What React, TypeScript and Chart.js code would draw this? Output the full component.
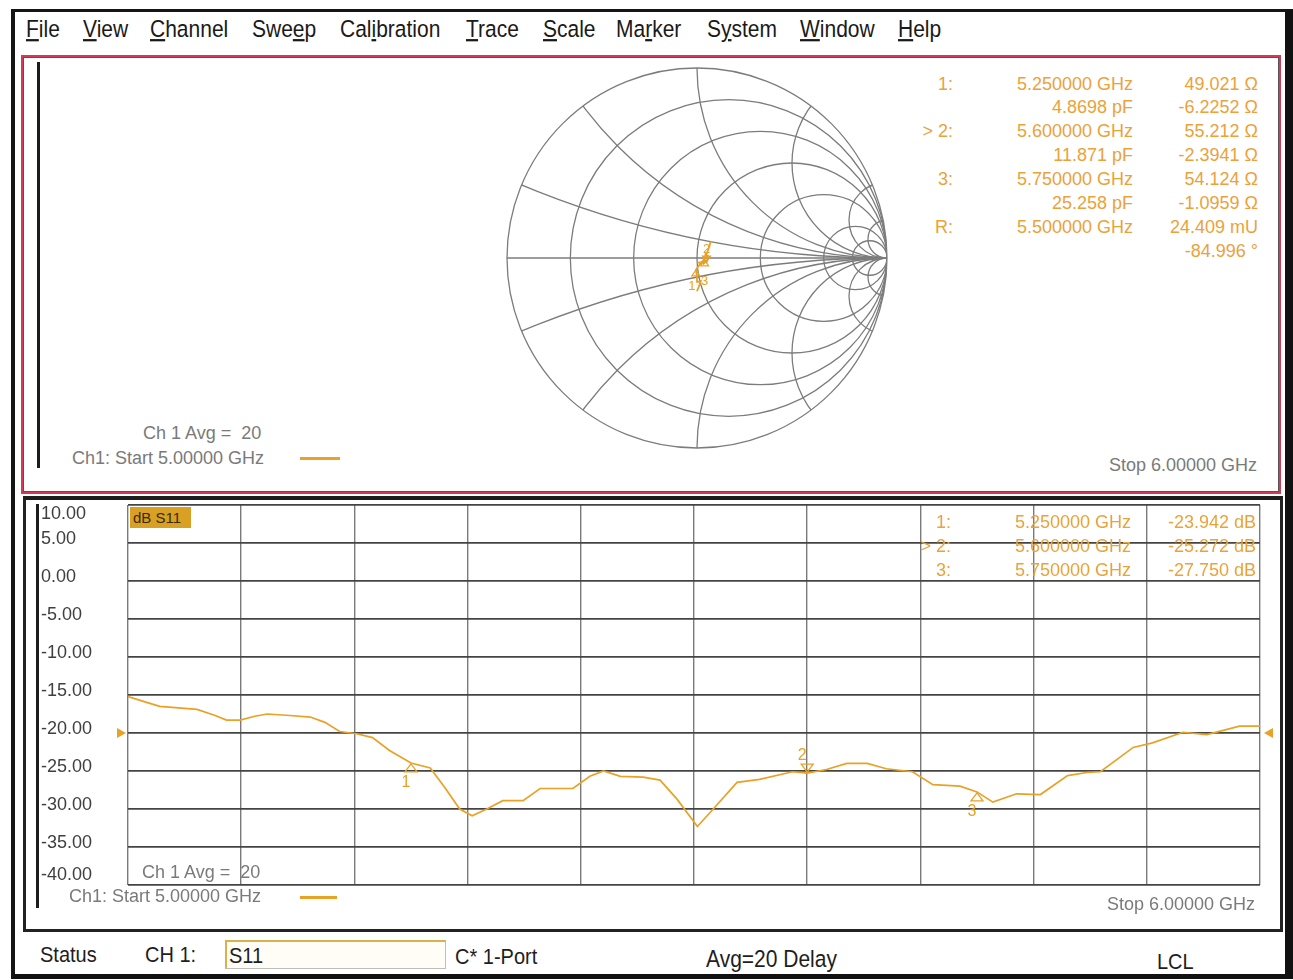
import React, { useEffect, useRef } from 'react';
import { Chart, registerables } from 'chart.js';
Chart.register(...registerables);

// ---------- data ----------
const freqGHz = [5.000, 5.015, 5.028, 5.061, 5.077, 5.087, 5.099, 5.112, 5.123, 5.143, 5.161, 5.174, 5.187, 5.202, 5.216, 5.231, 5.250, 5.267, 5.280, 5.293, 5.304, 5.317, 5.331, 5.349, 5.364, 5.393, 5.408, 5.420, 5.435, 5.455, 5.470, 5.485, 5.503, 5.517, 5.538, 5.558, 5.587, 5.600, 5.617, 5.635, 5.653, 5.670, 5.693, 5.711, 5.735, 5.750, 5.764, 5.785, 5.806, 5.830, 5.847, 5.859, 5.888, 5.905, 5.932, 5.953, 5.982, 6.000];
const s11Db = [-15.2, -15.9, -16.5, -16.9, -17.7, -18.3, -18.3, -17.8, -17.5, -17.7, -17.9, -18.6, -19.8, -20.1, -20.6, -22.3, -23.942, -24.6, -27.2, -30.0, -30.9, -30.0, -28.9, -28.9, -27.3, -27.3, -25.7, -25.0, -25.7, -25.8, -26.2, -28.7, -32.3, -30.0, -26.5, -26.1, -25.1, -25.272, -24.8, -24.0, -24.0, -24.7, -25.1, -26.8, -27.0, -27.75, -29.1, -28.0, -28.1, -25.6, -25.2, -25.1, -21.9, -21.3, -19.9, -20.2, -19.1, -19.1];

const gridFreqs = [5.0, 5.1, 5.2, 5.3, 5.4, 5.5, 5.6, 5.7, 5.8, 5.9, 6.0];
const dbTicks = [10, 5, 0, -5, -10, -15, -20, -25, -30, -35, -40];
const dbTickLabels = ['10.00', '5.00', '0.00', '-5.00', '-10.00', '-15.00', '-20.00', '-25.00', '-30.00', '-35.00', '-40.00'];
const refLevelDb = -20;

const markerNames = ['1', '2', '3'];
const markerFreq = [5.25, 5.6, 5.75];
const markerDb = [-23.942, -25.272, -27.75];
const activeMarker = 1;

// Smith chart trace (reflection coefficient, real / imaginary)
const smithRe = [0.0, 0.01, 0.02, 0.005, 0.0, -0.006, 0.02, 0.03, 0.035, 0.045, 0.0021, 0.04, 0.05, 0.058, 0.045, 0.04, 0.03, 0.05, 0.065, 0.07, 0.075];
const smithIm = [-0.175, -0.15, -0.12, -0.125, -0.095, -0.063, -0.025, -0.015, -0.03, -0.02, -0.0243, -0.02, -0.022, 0.01, 0.02, -0.01, -0.02, 0.02, 0.06, 0.08, 0.09];
const smithMarkerRe = [-0.006, 0.05, 0.04];
const smithMarkerIm = [-0.063, -0.022, -0.01];
const smithRCircles = [0.2, 0.5, 1, 2, 5, 10];
const smithXArcs = [0.2, 0.5, 1, 2, 5, 10];

// Texts
const menuItems = ['File', 'View', 'Channel', 'Sweep', 'Calibration', 'Trace', 'Scale', 'Marker', 'System', 'Window', 'Help'];
const menuUnderline = [0, 0, 0, 3, 3, 0, 0, 2, 1, 0, 0];
const menuX = [26, 83, 150, 252, 340, 466, 543, 616, 707, 800, 898];

const smithTableLabels = ['1:', '', '> 2:', '', '3:', '', 'R:', ''];
const smithTableFreq = ['5.250000 GHz', '4.8698 pF', '5.600000 GHz', '11.871 pF', '5.750000 GHz', '25.258 pF', '5.500000 GHz', ''];
const smithTableVal = ['49.021 Ω', '-6.2252 Ω', '55.212 Ω', '-2.3941 Ω', '54.124 Ω', '-1.0959 Ω', '24.409 mU', '-84.996 °'];

const dbTableLabels = ['1:', '> 2:', '3:'];
const dbTableFreq = ['5.250000 GHz', '5.600000 GHz', '5.750000 GHz'];
const dbTableVal = ['-23.942 dB', '-25.272 dB', '-27.750 dB'];

const ORANGE = '#e9a126';
const TEXT_ORANGE = '#eba23a';
const FONT = '"Liberation Sans", Arial, sans-serif';

function Txt({ x, y, s = 18, c = '#7a7a7a', right = false, w = 500, children, extra = {} }: any) {
  const lh = Math.round(s * 1.3);
  const style: any = {
    position: 'absolute', top: y - lh / 2, height: lh, lineHeight: lh + 'px',
    fontSize: s, color: c, whiteSpace: 'pre', ...extra,
  };
  if (right) { style.left = x - w; style.width = w; style.textAlign = 'right'; } else { style.left = x; }
  return <div style={style}>{children}</div>;
}

function drawTri(ctx: any, px: number, py: number, up: boolean) {
  const h = 8, hw = 6;
  ctx.beginPath();
  if (up) {
    ctx.moveTo(px, py + 1); ctx.lineTo(px - hw, py + 1 + h); ctx.lineTo(px + hw, py + 1 + h);
  } else {
    ctx.moveTo(px, py - 1); ctx.lineTo(px - hw, py - 1 - h); ctx.lineTo(px + hw, py - 1 - h);
  }
  ctx.closePath();
  ctx.stroke();
}

export default function App() {
  const smithRef = useRef<HTMLCanvasElement>(null);
  const dbRef = useRef<HTMLCanvasElement>(null);

  useEffect(() => {
    const smithGrid = {
      id: 'smithGrid',
      beforeDatasetsDraw(chart: any) {
        const { ctx, scales } = chart;
        const sx = scales.x, sy = scales.y;
        const cx = sx.getPixelForValue(0), cy = sy.getPixelForValue(0);
        const R = sx.getPixelForValue(1) - cx;
        ctx.save();
        ctx.strokeStyle = '#7c7c7c';
        ctx.lineWidth = 1.3;
        ctx.beginPath(); ctx.arc(cx, cy, R, 0, Math.PI * 2); ctx.stroke();
        ctx.beginPath(); ctx.arc(cx, cy, R, 0, Math.PI * 2); ctx.clip();
        smithRCircles.forEach((r) => {
          const u = r / (1 + r), rad = 1 / (1 + r);
          ctx.beginPath(); ctx.arc(sx.getPixelForValue(u), cy, rad * R, 0, Math.PI * 2); ctx.stroke();
        });
        smithXArcs.forEach((xv) => {
          [1, -1].forEach((sg) => {
            ctx.beginPath();
            ctx.arc(sx.getPixelForValue(1), sy.getPixelForValue(sg / xv), R / xv, 0, Math.PI * 2);
            ctx.stroke();
          });
        });
        ctx.beginPath(); ctx.moveTo(cx - R, cy); ctx.lineTo(cx + R, cy); ctx.stroke();
        ctx.restore();
      },
      afterDatasetsDraw(chart: any) {
        const { ctx, scales } = chart;
        ctx.save();
        ctx.strokeStyle = ORANGE; ctx.fillStyle = ORANGE; ctx.lineWidth = 1.2;
        ctx.font = '13px ' + FONT; ctx.textAlign = 'center'; ctx.textBaseline = 'middle';
        smithMarkerRe.forEach((re, i) => {
          const px = scales.x.getPixelForValue(re), py = scales.y.getPixelForValue(smithMarkerIm[i]);
          const up = i !== activeMarker;
          ctx.save(); ctx.translate(0, 0);
          ctx.beginPath();
          const h = 6, hw = 4;
          if (up) { ctx.moveTo(px, py); ctx.lineTo(px - hw, py + h); ctx.lineTo(px + hw, py + h); }
          else { ctx.moveTo(px, py); ctx.lineTo(px - hw, py - h); ctx.lineTo(px + hw, py - h); }
          ctx.closePath(); ctx.stroke(); ctx.restore();
          ctx.fillText(markerNames[i], px + (i === 0 ? -4 : 0), up ? py + 16 + i * 3 : py - 13);
        });
        ctx.restore();
      },
    };

    const smith = new Chart(smithRef.current as any, {
      type: 'scatter',
      data: {
        datasets: [{
          data: smithRe.map((re, i) => ({ x: re, y: smithIm[i] })),
          showLine: true, borderColor: ORANGE, borderWidth: 1.8, pointRadius: 0, tension: 0,
        }],
      },
      options: {
        animation: false, responsive: false, maintainAspectRatio: false,
        layout: { padding: 6 },
        plugins: { legend: { display: false }, tooltip: { enabled: false } },
        scales: {
          x: { type: 'linear', min: -1, max: 1, display: false },
          y: { type: 'linear', min: -1, max: 1, display: false },
        },
      } as any,
      plugins: [smithGrid as any],
    });

    const dbOverlay = {
      id: 'dbOverlay',
      afterDraw(chart: any) {
        const { ctx, chartArea, scales } = chart;
        const sx = scales.x, sy = scales.y;
        ctx.save();
        ctx.font = '18px ' + FONT;
        ctx.fillStyle = '#3f3f3f';
        ctx.textAlign = 'left'; ctx.textBaseline = 'middle';
        dbTicks.forEach((v, i) => {
          let py = sy.getPixelForValue(v) - 4;
          py = Math.max(chartArea.top + 9, Math.min(chartArea.bottom - 10, py));
          ctx.fillText(dbTickLabels[i], chartArea.left - 87, py);
        });
        // reference level arrows
        const ry = sy.getPixelForValue(refLevelDb);
        ctx.fillStyle = ORANGE;
        ctx.beginPath();
        ctx.moveTo(chartArea.left - 11, ry - 5); ctx.lineTo(chartArea.left - 11, ry + 5); ctx.lineTo(chartArea.left - 2, ry);
        ctx.closePath(); ctx.fill();
        ctx.beginPath();
        ctx.moveTo(chartArea.right + 13, ry - 5); ctx.lineTo(chartArea.right + 13, ry + 5); ctx.lineTo(chartArea.right + 4, ry);
        ctx.closePath(); ctx.fill();
        // markers
        ctx.strokeStyle = ORANGE; ctx.lineWidth = 1.3;
        ctx.font = '16px ' + FONT; ctx.textAlign = 'center';
        markerFreq.forEach((f, i) => {
          const px = sx.getPixelForValue(f), py = sy.getPixelForValue(markerDb[i]);
          const up = i !== activeMarker;
          drawTri(ctx, px, py, up);
          ctx.fillText(markerNames[i], px - 5, up ? py + 20 : py - 17);
        });
        ctx.restore();
      },
    };

    const db = new Chart(dbRef.current as any, {
      type: 'line',
      data: {
        datasets: [{
          data: freqGHz.map((f, i) => ({ x: f, y: s11Db[i] })),
          borderColor: ORANGE, borderWidth: 1.7, pointRadius: 0, tension: 0,
        }],
      },
      options: {
        animation: false, responsive: false, maintainAspectRatio: false,
        layout: { padding: { left: 100, right: 18, top: 6, bottom: 30 } },
        plugins: { legend: { display: false }, tooltip: { enabled: false } },
        scales: {
          x: {
            type: 'linear', min: 5, max: 6,
            afterBuildTicks: (s: any) => { s.ticks = gridFreqs.map((v) => ({ value: v })); },
            afterFit: (s: any) => { s.height = 0; },
            ticks: { display: false },
            grid: { color: '#7a7a7a', lineWidth: 1.4, drawTicks: false },
            border: { display: false },
          },
          y: {
            type: 'linear', min: -40, max: 10,
            afterBuildTicks: (s: any) => { s.ticks = dbTicks.map((v) => ({ value: v })); },
            afterFit: (s: any) => { s.width = 0; },
            ticks: { display: false },
            grid: { color: '#444444', lineWidth: 1.8, drawTicks: false },
            border: { display: false },
          },
        },
      } as any,
      plugins: [dbOverlay as any],
    });

    return () => { smith.destroy(); db.destroy(); };
  }, []);

  const abs = (l: number, t: number, w: number, h: number, extra: any = {}) =>
    ({ position: 'absolute', left: l, top: t, width: w, height: h, boxSizing: 'border-box', ...extra } as any);

  return (
    <div style={{ position: 'absolute', left: 0, top: 0, width: 1293, height: 980, background: '#fff', overflow: 'hidden', fontFamily: FONT }}>
      {/* window frame */}
      <div style={abs(11, 9, 1282, 970, { borderLeft: '4px solid #151515', borderTop: '3px solid #151515', borderRight: '8px solid #111', borderBottom: '5px solid #111' })} />

      {/* menu */}
      {menuItems.map((m, i) => (
        <div key={m} style={{ position: 'absolute', left: menuX[i], top: 16, fontSize: 21, lineHeight: '26px', color: '#1a1a1a', whiteSpace: 'pre', transform: 'scaleY(1.12)' }}>
          {m.slice(0, menuUnderline[i])}<u>{m[menuUnderline[i]]}</u>{m.slice(menuUnderline[i] + 1)}
        </div>
      ))}

      {/* top panel */}
      <div style={abs(21, 55, 1260, 439, { border: '2px solid #d23a57', boxShadow: 'inset 0 0 0 1px #555' })} />
      <canvas ref={smithRef} width={392} height={392} style={{ position: 'absolute', left: 501, top: 62, width: 392, height: 392 }} />
      <div style={abs(37, 62, 3, 406, { background: '#1c1c1c' })} />
      {smithTableLabels.map((t, i) => (
        <React.Fragment key={'st' + i}>
          <Txt x={953} y={84 + 23.9 * i} right w={60} c={TEXT_ORANGE}>{t}</Txt>
          <Txt x={1133} y={84 + 23.9 * i} right w={200} c={TEXT_ORANGE}>{smithTableFreq[i]}</Txt>
          <Txt x={1258} y={84 + 23.9 * i} right w={120} c={TEXT_ORANGE}>{smithTableVal[i]}</Txt>
        </React.Fragment>
      ))}
      <Txt x={143} y={433}>{'Ch 1 Avg =  20'}</Txt>
      <Txt x={72} y={458}>{'Ch1: Start 5.00000 GHz'}</Txt>
      <div style={abs(300, 457, 40, 3, { background: ORANGE })} />
      <Txt x={1257} y={465} right w={300}>{'Stop 6.00000 GHz'}</Txt>

      {/* bottom panel */}
      <div style={abs(23, 496, 1260, 436, { borderTop: '4px solid #1d1d1d', borderLeft: '3px solid #222', borderRight: '3px solid #222', borderBottom: '3px solid #222' })} />
      <canvas ref={dbRef} width={1250} height={416} style={{ position: 'absolute', left: 28, top: 499, width: 1250, height: 416 }} />
      <div style={abs(36, 504, 3, 404, { background: '#1c1c1c' })} />
      <div style={abs(130, 507, 61, 21, { background: '#d9a024', color: '#3a2a05', fontSize: 15, lineHeight: '21px', paddingLeft: 3, whiteSpace: 'pre' })}>dB S11</div>
      {dbTableLabels.map((t, i) => (
        <React.Fragment key={'dt' + i}>
          <Txt x={951} y={522 + 24 * i} right w={60} c={TEXT_ORANGE}>{t}</Txt>
          <Txt x={1131} y={522 + 24 * i} right w={200} c={TEXT_ORANGE}>{dbTableFreq[i]}</Txt>
          <Txt x={1256} y={522 + 24 * i} right w={120} c={TEXT_ORANGE}>{dbTableVal[i]}</Txt>
        </React.Fragment>
      ))}
      <Txt x={142} y={872}>{'Ch 1 Avg =  20'}</Txt>
      <Txt x={69} y={896}>{'Ch1: Start 5.00000 GHz'}</Txt>
      <div style={abs(300, 896, 37, 3, { background: ORANGE })} />
      <Txt x={1255} y={904} right w={300}>{'Stop 6.00000 GHz'}</Txt>

      {/* status bar */}
      <Txt x={40} y={954} s={20} c="#1e1e1e" extra={{ transform: 'scaleY(1.12)' }}>Status</Txt>
      <Txt x={145} y={954} s={20} c="#1e1e1e" extra={{ transform: 'scaleY(1.12)' }}>{'CH 1:'}</Txt>
      <div style={abs(225, 940, 221, 29, { borderLeft: '2px solid #d9b24a', borderTop: '2px solid #d9b24a', borderRight: '1px solid #bdbdbd', borderBottom: '1px solid #bdbdbd', background: '#fffdf6' })} />
      <Txt x={229} y={955} s={20} c="#1e1e1e" extra={{ transform: 'scaleY(1.12)' }}>S11</Txt>
      <Txt x={455} y={956} s={20} c="#1e1e1e" extra={{ transform: 'scaleY(1.12)' }}>{'C* 1-Port'}</Txt>
      <Txt x={706} y={958} s={21} c="#1e1e1e" extra={{ transform: 'scaleY(1.12)' }}>{'Avg=20 Delay'}</Txt>
      <Txt x={1157} y={961} s={20} c="#1e1e1e" extra={{ transform: 'scaleY(1.12)' }}>LCL</Txt>
    </div>
  );
}
